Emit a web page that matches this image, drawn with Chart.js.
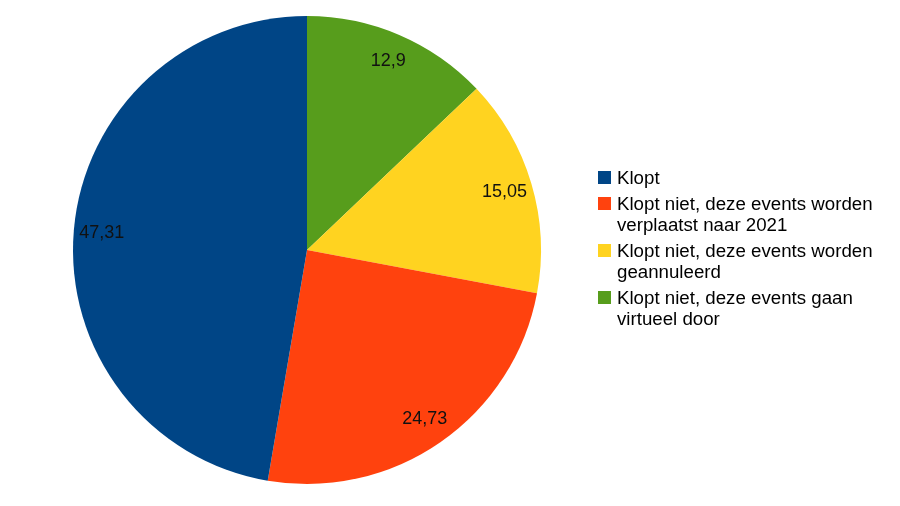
<!DOCTYPE html>
<html>
<head>
<meta charset="utf-8">
<script src="https://cdn.jsdelivr.net/npm/chart.js@4.4.0/dist/chart.umd.min.js"></script>
<style>
  html, body { margin: 0; padding: 0; background: #fff; }
  #wrap { position: relative; width: 900px; height: 506px; }
  #pie { position: absolute; left: 0; top: 0; }
  #legend {
    position: absolute; left: 598px; top: 167px; width: 290px;
    font-family: "Liberation Sans", Arial, sans-serif; font-size: 18.7px;
    line-height: 21px; color: #000;
  }
  .item { position: relative; padding-left: 19px; margin-bottom: 5px; }
  .item .box { position: absolute; left: 0; top: 4px; width: 13px; height: 13px; }
</style>
</head>
<body>
<div id="wrap">
  <canvas id="pie" width="900" height="506"></canvas>
  <div id="legend"></div>
</div>
<script>
// ---- Data (legend order) ----
const labels = [
  'Klopt',
  'Klopt niet, deze events worden verplaatst naar 2021',
  'Klopt niet, deze events worden geannuleerd',
  'Klopt niet, deze events gaan virtueel door'
];
const values = [47.31, 24.73, 15.05, 12.9];
const colors = ['#004586', '#ff420e', '#ffd320', '#579d1c'];

// LibreOffice draws counter-clockwise from 12 o'clock; Chart.js goes clockwise,
// so feed the slices in reverse order.
const pieLabels = labels.slice().reverse();
const pieValues = values.slice().reverse();
const pieColors = colors.slice().reverse();

const fmt = v => String(v).replace('.', ',');

// value labels inside each slice
const sliceLabels = {
  id: 'sliceLabels',
  afterDatasetsDraw(chart) {
    const ctx = chart.ctx;
    const meta = chart.getDatasetMeta(0);
    ctx.save();
    ctx.font = '18px "Liberation Sans", Arial, sans-serif';
    ctx.fillStyle = '#111';
    ctx.textAlign = 'center';
    ctx.textBaseline = 'middle';
    meta.data.forEach((arc, i) => {
      const mid = (arc.startAngle + arc.endAngle) / 2;
      const r = arc.outerRadius * 0.88;
      ctx.fillText(fmt(pieValues[i]), arc.x + r * Math.cos(mid), arc.y + r * Math.sin(mid));
    });
    ctx.restore();
  }
};

new Chart(document.getElementById('pie'), {
  type: 'pie',
  data: {
    labels: pieLabels,
    datasets: [{
      data: pieValues,
      backgroundColor: pieColors,
      borderWidth: 0,
      hoverOffset: 0
    }]
  },
  options: {
    responsive: false,
    animation: false,
    events: [],
    layout: { padding: { left: 73, right: 359, top: 16, bottom: 22 } },
    plugins: {
      legend: { display: false },
      tooltip: { enabled: false }
    }
  },
  plugins: [sliceLabels]
});

// ---- HTML legend ----
const legend = document.getElementById('legend');
labels.forEach((lab, i) => {
  const item = document.createElement('div');
  item.className = 'item';
  const box = document.createElement('span');
  box.className = 'box';
  box.style.background = colors[i];
  item.appendChild(box);
  item.appendChild(document.createTextNode(lab));
  legend.appendChild(item);
});
</script>
</body>
</html>
